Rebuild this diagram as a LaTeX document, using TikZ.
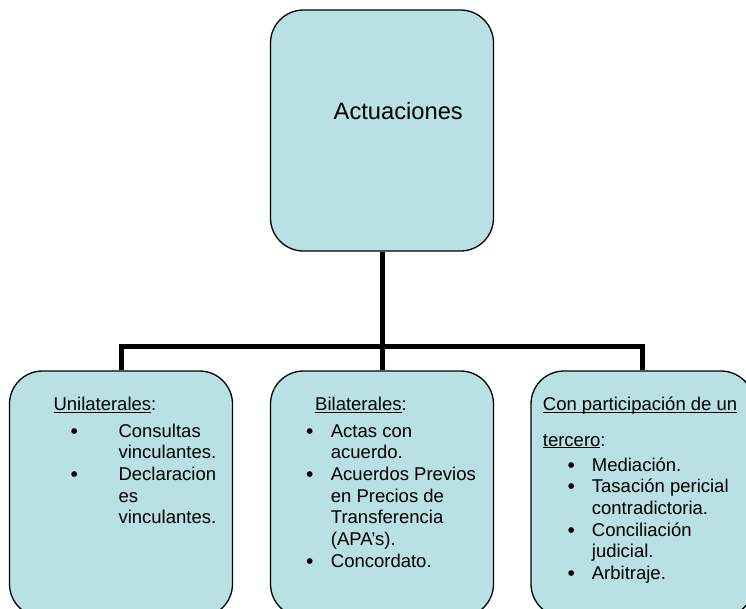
\documentclass[tikz,border=0pt]{standalone}
\usepackage{fontspec}
\setmainfont{Liberation Sans}
\definecolor{boxfill}{RGB}{185,224,227}
\newcommand\myul[1]{\setbox0\hbox{#1}\rlap{\rule[-2.4pt]{\wd0}{1.1pt}}\box0}
\begin{document}
\begin{tikzpicture}[x=1pt,y=-1pt,
  card/.style={draw=black,line width=1.3pt,fill=boxfill,rounded corners=33pt,
    minimum width=223pt,minimum height=246pt,inner sep=0pt},
  link/.style={line width=5pt,black},
  txt/.style={anchor=base west,inner sep=0pt,font=\fontsize{18.5}{22}\selectfont},
  dot/.style={anchor=base west,inner sep=0pt,font=\fontsize{21}{22}\selectfont},
]
\useasboundingbox (0,0) rectangle (746,608);
\clip (0,0) rectangle (746,608);

% boxes
\node[card,minimum height=241pt] (top) at (382,130.5) {};
\node[card] (uni) at (121,494) {};
\node[card] (bil) at (382,494) {};
\node[card] (ter) at (642.5,494) {};

% connectors
\coordinate (hub) at (382,346);
\draw[link] (top.south) -- (hub);
\draw[link] (uni.north) |- (hub) -| (ter.north);
\draw[link] (hub) -- (bil.north);

% title
\node[anchor=base west,inner sep=0pt,font=\fontsize{23.7}{27}\selectfont] (title) at (333.5,119) {Actuaciones};

% left box
\node[txt] (uh) at (53.3,410.7) {\myul{Unilaterales}:};
\node[dot] (ub1) at (70.5,438) {•};
\node[dot] (ub2) at (70.5,481.4) {•};
\node[txt] (u1) at (118.3,437) {Consultas};
\node[txt] (u2) at (118.3,458.7) {vinculantes.};
\node[txt] (u3) at (118.3,480.4) {Declaracion};
\node[txt] (u4) at (118.3,502.1) {es};
\node[txt] (u5) at (118.3,523.8) {vinculantes.};

% middle box
\node[txt] (bh) at (315,410.7) {\myul{Bilaterales}:};
\node[dot] (bb1) at (306,438) {•};
\node[dot] (bb2) at (306,481.4) {•};
\node[dot] (bb3) at (306,568.2) {•};
\node[txt] (b1) at (330.7,437) {Actas con};
\node[txt] (b2) at (330.7,458.7) {acuerdo.};
\node[txt] (b3) at (330.7,480.4) {Acuerdos Previos};
\node[txt] (b4) at (330.7,502.1) {en Precios de};
\node[txt] (b5) at (330.7,523.8) {Transferencia};
\node[txt] (b6) at (330.7,545.5) {(APA’s).};
\node[txt] (b7) at (330.7,567.2) {Concordato.};

% right box
\node[txt] (th1) at (542.7,410.7) {\myul{Con participación de un}};
\node[txt] (th2) at (542.7,446) {\myul{tercero}:};
\node[dot] (tb1) at (567.5,472) {•};
\node[dot] (tb2) at (567.5,493.7) {•};
\node[dot] (tb3) at (567.5,537.1) {•};
\node[dot] (tb4) at (567.5,580.5) {•};
\node[txt] (t1) at (591.7,471) {Mediación.};
\node[txt] (t2) at (591.7,492.7) {Tasación pericial};
\node[txt] (t3) at (591.7,514.4) {contradictoria.};
\node[txt] (t4) at (591.7,536.1) {Conciliación};
\node[txt] (t5) at (591.7,557.8) {judicial.};
\node[txt] (t6) at (591.7,579.5) {Arbitraje.};
\end{tikzpicture}
\end{document}
